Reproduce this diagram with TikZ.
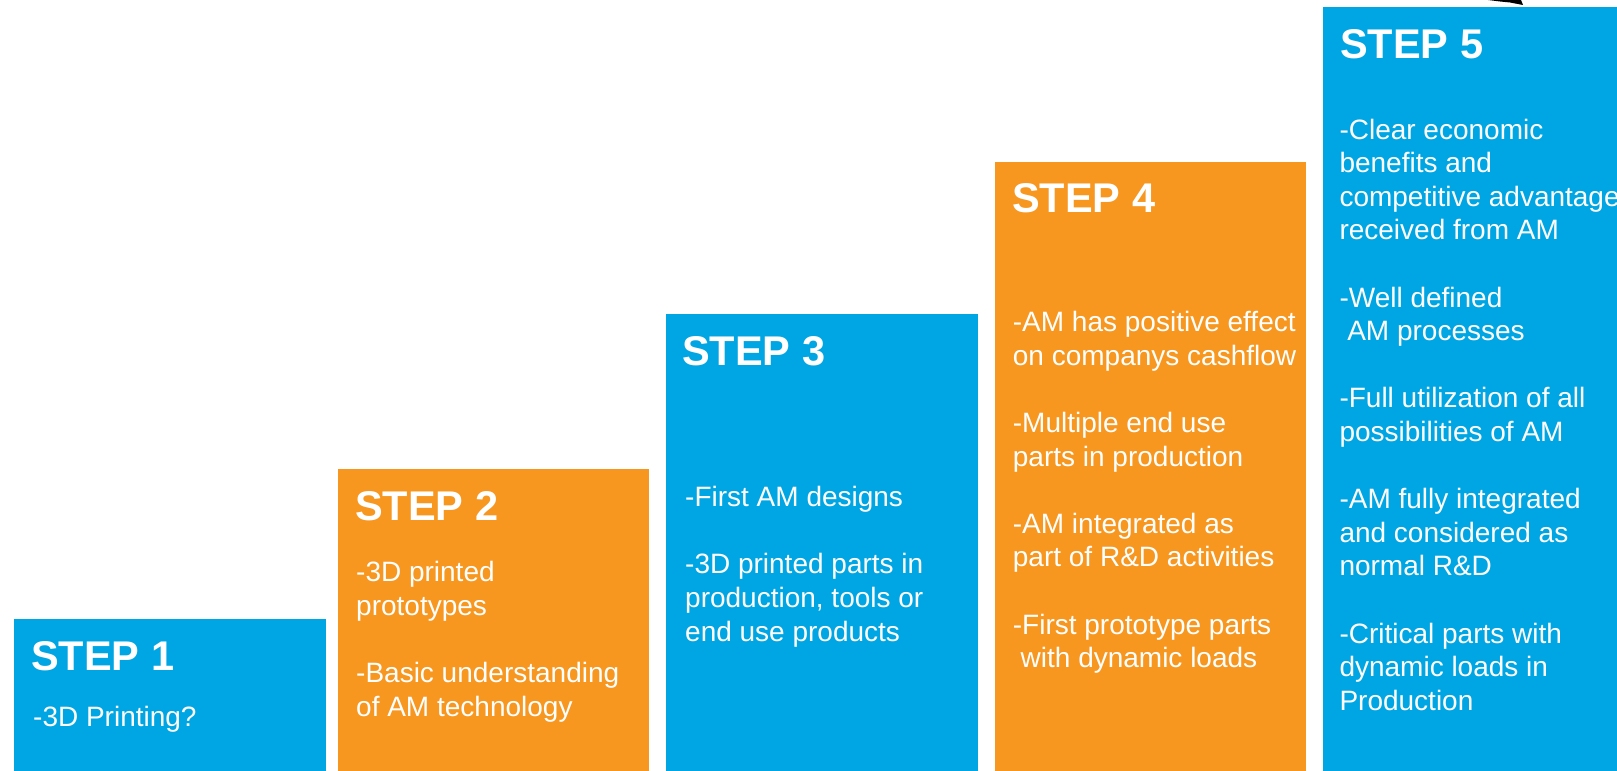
\documentclass[tikz,border=0pt]{standalone}
\usepackage{fontspec}
\setmainfont{Liberation Sans}
\definecolor{stepblue}{RGB}{0,166,227}
\definecolor{steporange}{RGB}{247,151,31}
\newcommand{\bodylines}[1]{\parbox[t]{320pt}{\raggedright\fontsize{28}{33.6}\selectfont #1}}
\newcommand{\gap}{\\[33.6pt]}
\tikzset{
  x=1pt, y=-1pt,
  stepbox/.style={anchor=north west, inner sep=0pt, outer sep=0pt, draw=none},
  bluebox/.style={stepbox, fill=stepblue},
  orangebox/.style={stepbox, fill=steporange},
  steptitle/.style={anchor=base west, inner sep=0pt, text=white, font=\fontsize{41.5}{50}\selectfont\bfseries},
  stepbody/.style={anchor=base west, inner sep=0pt, text=white}
}
\begin{document}
\begin{tikzpicture}
\useasboundingbox (0,0) rectangle (1617,771);
\fill[white] (0,0) rectangle (1617,771);

% boxes
\node[bluebox, minimum width=312pt, minimum height=152pt] (b1) at (14,619) {};
\node[orangebox, minimum width=311pt, minimum height=302pt] (b2) at (338,469) {};
\node[bluebox, minimum width=312pt, minimum height=457pt] (b3) at (666,314) {};
\node[orangebox, minimum width=311pt, minimum height=609pt] (b4) at (995,162) {};
\node[bluebox, minimum width=310pt, minimum height=770pt] (b5) at (1323,7) {};

% fragment at the top edge
\fill[black] (1488,0) -- (1521,0) -- (1523,5) -- (1510,2.5) -- (1500,1.5) -- cycle;

% step 1
\node[steptitle] (t1) at (31,670.7) {STEP 1};
\node[stepbody] (x1) at (33,726.5) {\bodylines{-3D Printing?}};

% step 2
\node[steptitle] (t2) at (355,520) {STEP 2};
\node[stepbody] (x2) at (356,581.7) {\bodylines{-3D printed\\prototypes\gap -Basic understanding\\of AM technology}};

% step 3
\node[steptitle] (t3) at (682,365) {STEP 3};
\node[stepbody] (x3) at (685,506.7) {\bodylines{-First AM designs\gap -3D printed parts in\\production, tools or\\end use products}};

% step 4
\node[steptitle] (t4) at (1012,212.7) {STEP 4};
\node[stepbody] (x4) at (1012.7,331.7) {\bodylines{-AM has positive effect\\on companys cashflow\gap -Multiple end use\\parts in production\gap -AM integrated as\\part of R\&D activities\gap -First prototype parts\\\hspace*{7.8pt}with dynamic loads}};

% step 5
\node[steptitle] (t5) at (1340,58.3) {STEP 5};
\node[stepbody] (x5) at (1339.3,139) {\bodylines{-Clear economic\\benefits and\\competitive advantage\\received from AM\gap -Well defined\\\hspace*{7.8pt}AM processes\gap -Full utilization of all\\possibilities of AM\gap -AM fully integrated\\and considered as\\normal R\&D\gap -Critical parts with\\dynamic loads in\\Production}};
\end{tikzpicture}
\end{document}
